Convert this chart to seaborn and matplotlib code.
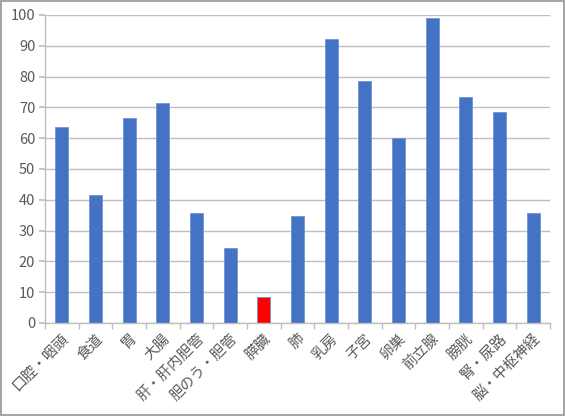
import matplotlib
matplotlib.use("Agg")
import matplotlib.pyplot as plt
import seaborn as sns
import pandas as pd

categories = ["口腔・咽頭", "食道", "胃", "大腸", "肝・肝内胆管", "胆のう・胆管", "膵臓", "肺",
              "乳房", "子宮", "卵巣", "前立腺", "膀胱", "腎・尿路", "脳・中枢神経"]
values = [63.5, 41.5, 66.6, 71.4, 35.8, 24.5, 8.5, 34.9, 92.2, 78.7, 60.0, 99.1, 73.3, 68.6, 35.6]
highlight = "膵臓"
y_ticks = [0, 10, 20, 30, 40, 50, 60, 70, 80, 90, 100]

sns.set_theme(style="white")
plt.rcParams['font.family'] = ['Noto Sans CJK JP', 'DejaVu Sans']

df = pd.DataFrame({"cat": categories, "val": values})
df["grp"] = ["hi" if c == highlight else "base" for c in categories]

fig = plt.figure(figsize=(5.65, 4.16), dpi=100, linewidth=1.5, edgecolor="#a6a6a6")
ax = fig.add_axes([45/565, (416-323)/416, (550-45)/565, (323-15)/416])

sns.barplot(data=df, x="cat", y="val", hue="grp", order=categories,
            palette={"base": "#4472C4", "hi": "#FF0000"}, dodge=False,
            width=0.39, legend=False, ax=ax, edgecolor="#6f93d6", linewidth=0.6,
            saturation=1)

ax.set_ylim(0, 100)
ax.set_xlim(-0.5, len(categories) - 0.5)
ax.set_yticks(y_ticks)
ax.yaxis.grid(True, color="#bfbfbf", linewidth=1)
ax.set_axisbelow(True)
ax.set_xlabel("")
ax.set_ylabel("")

for s in ["top", "right"]:
    ax.spines[s].set_visible(False)
for s in ["left", "bottom"]:
    ax.spines[s].set_color("#bfbfbf")
    ax.spines[s].set_linewidth(1)

ax.tick_params(axis="y", which="major", length=4, color="#bfbfbf", labelsize=10.5,
               labelcolor="#595959", left=True, pad=3)
ax.set_xticks(range(len(categories)))
ax.set_xticklabels(categories, rotation=45, ha="right", rotation_mode="anchor",
                   fontsize=10.5, color="#595959")
ax.tick_params(axis="x", which="major", length=0, pad=6)
ax.set_xticks([i - 0.5 for i in range(len(categories) + 1)], minor=True)
ax.tick_params(axis="x", which="minor", length=4, color="#bfbfbf", bottom=True)

fig.savefig("out.png", dpi=100)
